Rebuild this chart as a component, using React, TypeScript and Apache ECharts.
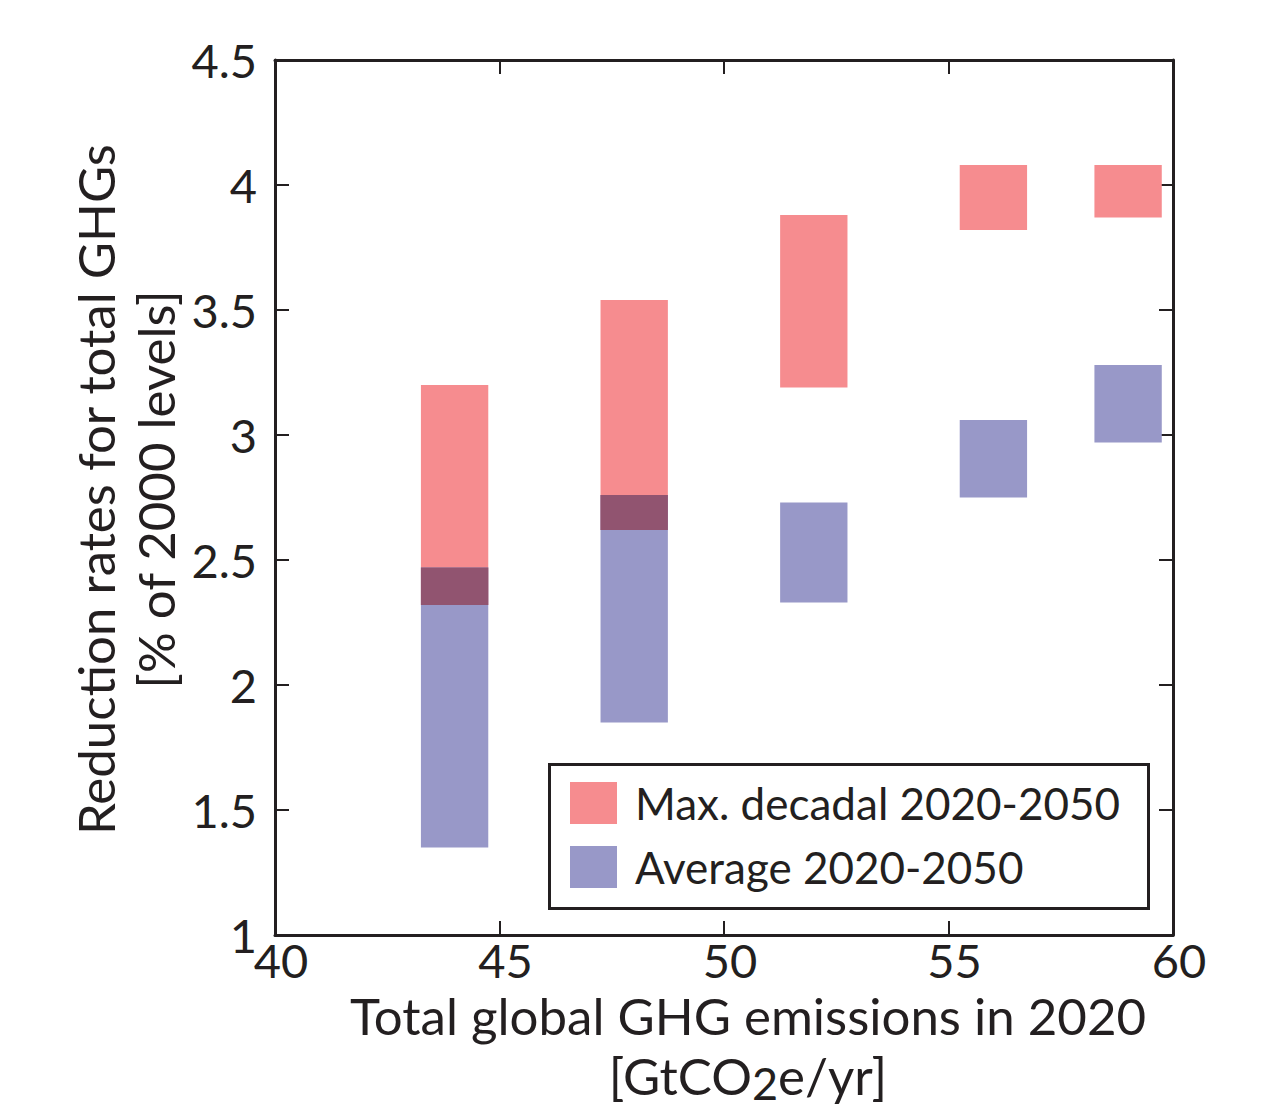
import React, { useEffect, useRef } from 'react';
import * as echarts from 'echarts';

// Emission levels in 2020 (bar centres, GtCO2e/yr)
const xCenters = [44, 48, 52, 56, 59];
const barHalfWidth = 0.75;
// Max. decadal reduction rate 2020-2050 (range)
const maxDecadalLow = [2.32, 2.62, 3.19, 3.82, 3.87];
const maxDecadalHigh = [3.2, 3.54, 3.88, 4.08, 4.08];
// Average reduction rate 2020-2050 (range)
const averageLow = [1.35, 1.85, 2.33, 2.75, 2.97];
const averageHigh = [2.47, 2.76, 2.73, 3.06, 3.28];

const seriesNames = ['Max. decadal 2020-2050', 'Average 2020-2050'];
const xMin = 40, xMax = 60, xInterval = 5;
const yMin = 1, yMax = 4.5, yInterval = 0.5;

const RED = '#f68c8f';
const BLUE = '#9898c8';
const OVERLAP = '#915470';
const INK = '#231f20';
const FONT = 'Lato';

export default function App() {
  const ref = useRef<HTMLDivElement>(null);

  useEffect(() => {
    if (!ref.current) return;
    const chart = echarts.init(ref.current, undefined, { renderer: 'svg' });

    const redData = xCenters.map((x, i) => [x, maxDecadalLow[i], maxDecadalHigh[i]]);
    const blueData = xCenters.map((x, i) => [x, averageLow[i], averageHigh[i]]);
    const overlapData: number[][] = [];
    xCenters.forEach((x, i) => {
      const lo = Math.max(maxDecadalLow[i], averageLow[i]);
      const hi = Math.min(maxDecadalHigh[i], averageHigh[i]);
      if (hi > lo) overlapData.push([x, lo, hi]);
    });

    const renderBar = (params: any, api: any) => {
      const x = api.value(0);
      const lo = api.value(1);
      const hi = api.value(2);
      const p0 = api.coord([x - barHalfWidth, hi]);
      const p1 = api.coord([x + barHalfWidth, lo]);
      return {
        type: 'rect',
        shape: { x: p0[0], y: p0[1], width: p1[0] - p0[0], height: p1[1] - p0[1] },
        style: { fill: api.visual('color') },
      };
    };

    const axisLine = { show: true, lineStyle: { color: INK, width: 3 } };
    const axisTick = { show: true, inside: true, length: 14, lineStyle: { color: INK, width: 2 } };
    const labelStyle = { color: INK, fontSize: 47, fontFamily: FONT };

    const option: any = {
      animation: false,
      backgroundColor: '#ffffff',
      grid: {
        left: 275, right: 94, top: 60, bottom: 183,
        containLabel: false, outerBoundsMode: 'none',
      },
      xAxis: [
        {
          type: 'value', min: xMin, max: xMax, interval: xInterval, position: 'bottom',
          axisLine, axisTick, splitLine: { show: false },
          axisLabel: { ...labelStyle, margin: 10, lineHeight: 30, padding: [0, 0, 0, 12] },
          name: 'Total global GHG emissions in 2020\n{n|[GtCO}{s|2}{n|e/yr]}',
          nameLocation: 'middle', nameGap: 50, nameMoveOverlap: false,
          nameTextStyle: {
            color: INK, fontSize: 51, fontFamily: FONT, lineHeight: 60, padding: [0, 0, 0, 48],
            rich: {
              n: { color: INK, fontSize: 51, fontFamily: FONT, lineHeight: 60 },
              s: { color: INK, fontSize: 45, fontFamily: FONT, lineHeight: 45, verticalAlign: 'bottom' },
            },
          },
        },
        {
          type: 'value', min: xMin, max: xMax, interval: xInterval, position: 'top',
          axisLine, axisTick, splitLine: { show: false }, axisLabel: { show: false },
        },
      ],
      yAxis: [
        {
          type: 'value', min: yMin, max: yMax, interval: yInterval, position: 'left',
          axisLine, axisTick, splitLine: { show: false },
          axisLabel: { ...labelStyle, margin: 18, lineHeight: 30 },
          name: 'Reduction rates for total GHGs\n[% of 2000 levels]',
          nameLocation: 'middle', nameGap: 90, nameRotate: 90, nameMoveOverlap: false,
          nameTextStyle: { color: INK, fontSize: 51, fontFamily: FONT, lineHeight: 60, padding: [0, 0, 0, 16] },
        },
        {
          type: 'value', min: yMin, max: yMax, interval: yInterval, position: 'right',
          axisLine, axisTick, splitLine: { show: false }, axisLabel: { show: false },
        },
      ],
      legend: {
        data: seriesNames,
        orient: 'vertical',
        left: 570, top: 781,
        padding: 0,
        itemWidth: 47, itemHeight: 42, itemGap: 20,
        icon: 'rect',
        selectedMode: false,
        textStyle: { color: INK, fontSize: 44, fontFamily: FONT, lineHeight: 42, padding: [0, 0, 0, 13] },
      },
      graphic: [
        {
          type: 'rect', left: 548, top: 763, z: 100,
          shape: { x: 0, y: 0, width: 599, height: 144 },
          style: { fill: 'transparent', stroke: INK, lineWidth: 3 },
        },
      ],
      series: [
        {
          name: seriesNames[0], type: 'custom', renderItem: renderBar,
          itemStyle: { color: RED }, data: redData, encode: { x: 0, y: [1, 2] }, z: 2,
        },
        {
          name: seriesNames[1], type: 'custom', renderItem: renderBar,
          itemStyle: { color: BLUE }, data: blueData, encode: { x: 0, y: [1, 2] }, z: 2,
        },
        {
          name: 'overlap', type: 'custom', renderItem: renderBar,
          itemStyle: { color: OVERLAP }, data: overlapData, encode: { x: 0, y: [1, 2] }, z: 3,
        },
      ],
    };

    chart.setOption(option);
    return () => chart.dispose();
  }, []);

  return (
    <div
      ref={ref}
      style={{ position: 'fixed', left: 0, top: 0, width: 1267, height: 1118, background: '#fff' }}
    />
  );
}
